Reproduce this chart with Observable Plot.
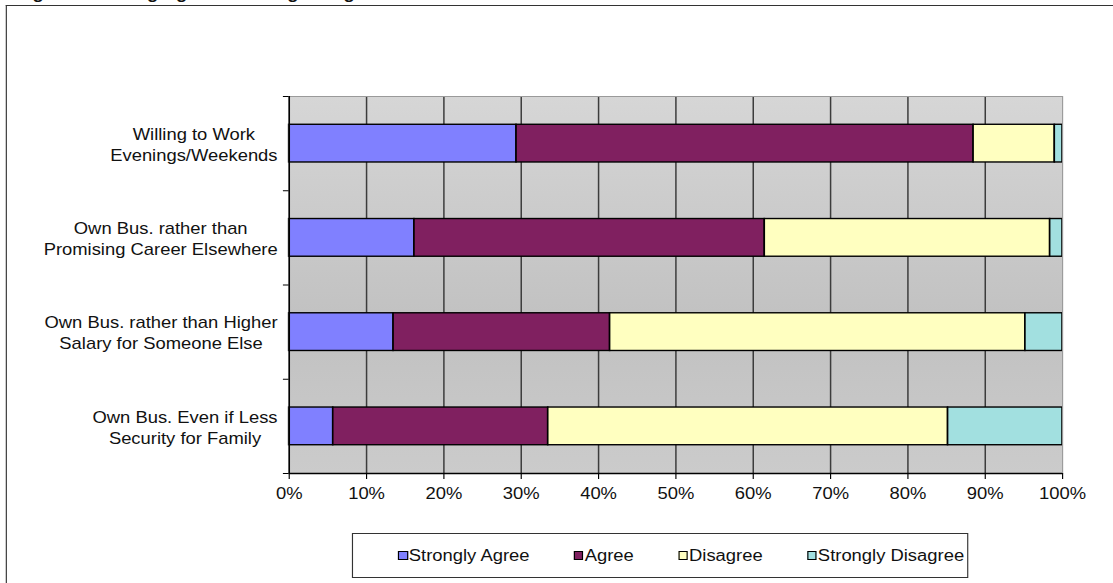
<!DOCTYPE html>
<html>
<head>
<meta charset="utf-8">
<script src="https://cdn.jsdelivr.net/npm/d3@7"></script>
<script src="https://cdn.jsdelivr.net/npm/@observablehq/plot@0.6"></script>
<style>
  html, body { margin: 0; padding: 0; background: #fff; overflow: hidden; }
  body { width: 1113px; height: 583px; font-family: "Liberation Sans", Arial, sans-serif; color: #111; }
  /* the whole figure is laid out narrow and widened horizontally */
  #page { position: relative; width: 968px; height: 583px; transform: scaleX(1.15); transform-origin: 0 0; }
  #title { position: absolute; left: 14px; top: -14px; font-weight: bold; font-size: 16px; line-height: 16px; white-space: nowrap; }
  #frame { position: absolute; left: 5px; top: 5px; width: 2000px; height: 2000px;
           border-left: 1.4px solid #333; border-top: 1.4px solid #333; pointer-events: none; }
  #chart { position: absolute; left: 0; top: 0; }
  #legend { position: absolute; left: 306px; top: 533px; width: 536px; height: 45px; box-sizing: border-box;
            border: 1.3px solid #333; display: flex; align-items: center; padding-left: 39px; font-size: 16px; }
  .item { display: flex; align-items: center; margin-right: 38.5px; white-space: nowrap; }
  .sw { width: 8.5px; height: 9.5px; box-sizing: border-box; border: 1.5px solid #000; margin-right: 1px; }
</style>
</head>
<body>
<div id="page">
  <div id="title">Figure 4: Strong Agreement Regarding Commitment to Own Business</div>
  <div id="chart"></div>
  <div id="legend"></div>
  <div id="frame"></div>
</div>
<script>
// Survey statements (top to bottom)
const questions = [
  "Willing to Work\nEvenings/Weekends",
  "Own Bus. rather than\nPromising Career Elsewhere",
  "Own Bus. rather than Higher\nSalary for Someone Else",
  "Own Bus. Even if Less\nSecurity for Family"
];

// Response categories and their fills
const responses = ["Strongly Agree", "Agree", "Disagree", "Strongly Disagree"];
const colors = ["#8080ff", "#802060", "#ffffc0", "#a2e0e0"];

// Share of respondents (%) per statement
const stronglyAgree    = [29.4, 16.2, 13.5, 5.7];
const agree            = [59.1, 45.3, 28.0, 27.8];
const disagree         = [10.5, 36.9, 53.7, 51.7];
const stronglyDisagree = [1.0, 1.6, 4.8, 14.8];

// Axis ticks
const xTicks = [0, 0.1, 0.2, 0.3, 0.4, 0.5, 0.6, 0.7, 0.8, 0.9, 1];

const series = [stronglyAgree, agree, disagree, stronglyDisagree];
const n = questions.length;

// Stacked segments: cumulative start/end along the 0–100% axis
const rows = questions.flatMap((q, i) => {
  let acc = 0;
  return responses.map((r, j) => {
    const v = series[j][i] / 100;
    const row = { question: q, response: r, index: i, x1: acc, x2: acc + v };
    acc += v;
    return row;
  });
});

const font = '"Liberation Sans", Arial, sans-serif';

const chart = Plot.plot({
  width: 968,
  height: 520,
  marginLeft: 251,
  marginRight: 44.5,
  marginTop: 96,
  marginBottom: 47,
  x: { domain: [0, 1], label: null },
  y: { domain: [0, n], reverse: true, label: null },
  color: { domain: responses, range: colors },
  style: { background: "transparent", fontFamily: font, fontSize: "16px", color: "#111" },
  marks: [
    Plot.frame({ fill: "url(#plotBg)", stroke: "none" }),
    Plot.gridX(xTicks.slice(1, -1), { stroke: "#3c3c3c", strokeOpacity: 1, strokeWidth: 1.3 }),
    Plot.rect(rows, {
      x1: "x1", x2: "x2",
      y1: d => d.index + 0.3, y2: d => d.index + 0.7,
      fill: "response", stroke: "#000", strokeWidth: 1.4
    }),
    Plot.frame({ stroke: "#9a9a9a", strokeWidth: 1 }),
    Plot.ruleX([0], { stroke: "#000", strokeWidth: 1.4 }),
    Plot.ruleY([n], { stroke: "#000", strokeWidth: 1.4 }),
    Plot.axisX(xTicks, { tickFormat: d3.format(".0%"), tickSize: 6, tickPadding: 8, stroke: "#000", fontSize: 16, label: null }),
    Plot.axisY(d3.range(n + 1), { tickSize: 5, tickFormat: () => "", stroke: "#000", label: null }),
    Plot.axisY(questions.map((_, i) => i + 0.5), {
      tickSize: 0, tickPadding: 10, tickFormat: v => questions[Math.floor(v)],
      lineHeight: 1.31, fontSize: 16, label: null
    })
  ]
});

// Background gradient for the plot area
const ns = "http://www.w3.org/2000/svg";
const defs = document.createElementNS(ns, "defs");
defs.innerHTML =
  '<linearGradient id="plotBg" x1="0" y1="0" x2="0" y2="1">' +
  '<stop offset="0" stop-color="#d6d6d6"/>' +
  '<stop offset="0.6" stop-color="#c1c1c1"/>' +
  '<stop offset="1" stop-color="#cbcbcb"/>' +
  '</linearGradient>';
chart.prepend(defs);
document.getElementById("chart").append(chart);

// Center each two-line statement label within its own block, right edge at the axis
chart.querySelectorAll('g[aria-label="y-axis tick label"] text').forEach(t => {
  const w = t.getBBox().width;
  if (!w) return;
  t.setAttribute("text-anchor", "middle");
  const spans = t.querySelectorAll("tspan");
  if (spans.length) spans.forEach(s => s.setAttribute("x", -w / 2));
  else t.setAttribute("x", -w / 2);
});

// Legend
const legend = document.getElementById("legend");
responses.forEach((r, i) => {
  const item = document.createElement("div");
  item.className = "item";
  const sw = document.createElement("div");
  sw.className = "sw";
  sw.style.background = colors[i];
  const label = document.createElement("span");
  label.textContent = r;
  item.append(sw, label);
  legend.append(item);
});
</script>
</body>
</html>
